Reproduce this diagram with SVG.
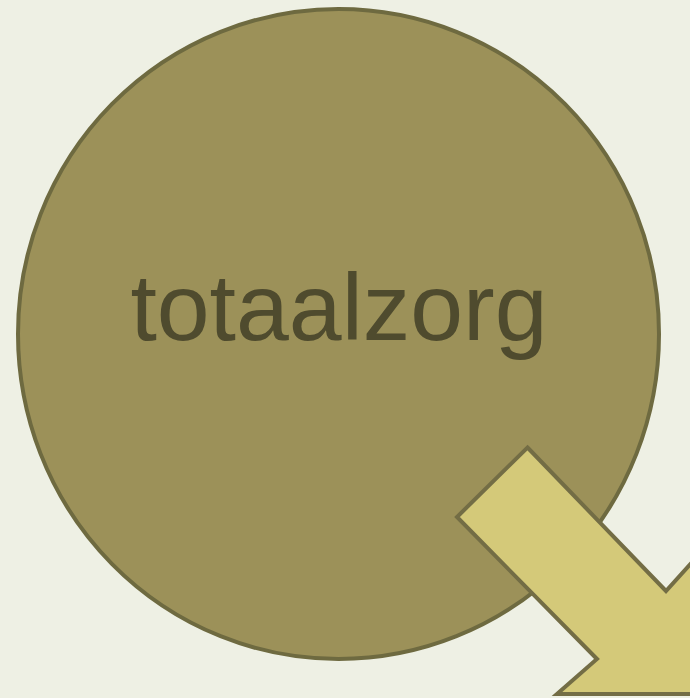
<svg xmlns="http://www.w3.org/2000/svg" width="690" height="698" viewBox="0 0 690 698">
<style>
.node{fill:#9C9159;stroke:#6E6A40;stroke-width:4}
.lbl{font-family:"Liberation Sans",Arial,sans-serif;font-size:95px;fill:#4F4B2E;text-anchor:middle}
.arrow{fill:#D4C979;stroke:#736D45;stroke-width:4;stroke-linejoin:miter}
</style>
<rect x="0" y="0" width="690" height="698" fill="#EEF0E4"/>
<g id="node-totaalzorg">
<ellipse class="node" cx="338.5" cy="334" rx="320.5" ry="325"/>
<text class="lbl" x="339" y="340">totaalzorg</text>
</g>
<g id="connectors">
<path class="arrow" d="M527.5,447.5 L666,591 L705,548 L705,694 L557,694 L597,659 L457,517 Z"/>
</g>
</svg>
